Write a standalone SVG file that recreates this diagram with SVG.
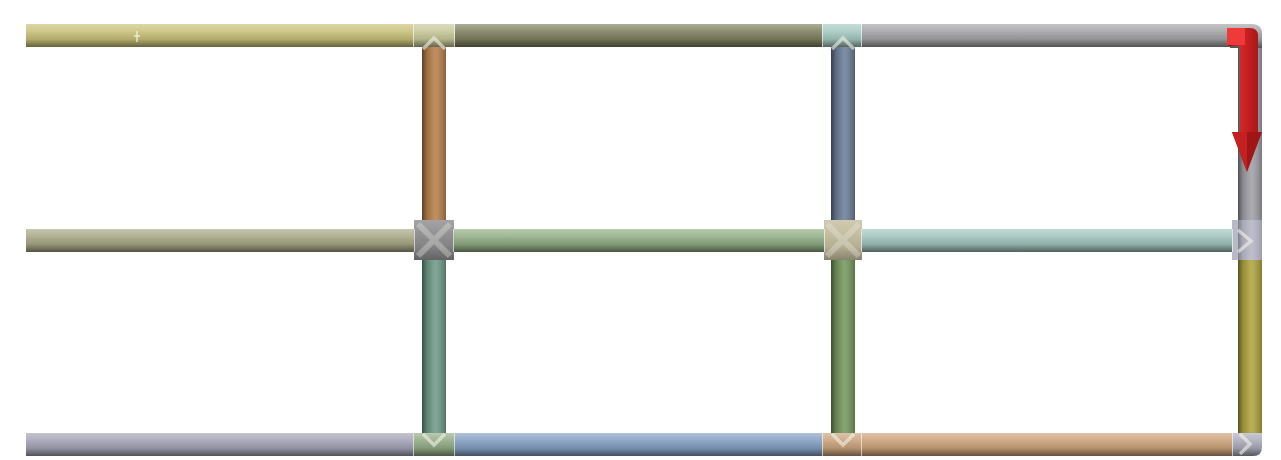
<svg xmlns="http://www.w3.org/2000/svg" width="1281" height="460" viewBox="0 0 1281 460">
<defs>
<linearGradient id="hs" x1="0" y1="0" x2="0" y2="1">
<stop offset="0" stop-color="#fff" stop-opacity="0.35"/>
<stop offset="0.3" stop-color="#fff" stop-opacity="0.12"/>
<stop offset="0.65" stop-color="#000" stop-opacity="0.1"/>
<stop offset="1" stop-color="#000" stop-opacity="0.5"/>
</linearGradient>
<linearGradient id="vs" x1="0" y1="0" x2="1" y2="0">
<stop offset="0" stop-color="#000" stop-opacity="0.5"/>
<stop offset="0.2" stop-color="#000" stop-opacity="0.15"/>
<stop offset="0.55" stop-color="#fff" stop-opacity="0.12"/>
<stop offset="1" stop-color="#000" stop-opacity="0.25"/>
</linearGradient>
<linearGradient id="red" x1="0" y1="0" x2="1" y2="0">
<stop offset="0" stop-color="#8e1010"/>
<stop offset="0.4" stop-color="#d82626"/>
<stop offset="1" stop-color="#a81818"/>
</linearGradient>
<style>
.sh{fill:url(#hs)}
.sv{fill:url(#vs)}
.edge{stroke:#fff;stroke-opacity:0.6;stroke-width:1;fill:none}
.chev{fill:none;stroke:#f4f4e8;stroke-opacity:0.6;stroke-width:3.5;stroke-linejoin:miter}
.xx{fill:none;stroke:#e8e8e0;stroke-opacity:0.35;stroke-width:6}
</style>
</defs>
<rect width="1281" height="460" fill="#fff"/>
<g id="connectors">
<rect x="26" y="24" width="387" height="23" fill="#c8c17a"/><rect x="26" y="24" width="387" height="23" class="sh"/>
<rect x="455" y="24" width="367" height="23" fill="#808060"/><rect x="455" y="24" width="367" height="23" class="sh"/>
<rect x="862" y="24" width="370" height="23" fill="#a4a4a6"/><rect x="862" y="24" width="370" height="23" class="sh"/>
<rect x="26" y="229" width="389" height="23" fill="#a8a888"/><rect x="26" y="229" width="389" height="23" class="sh"/>
<rect x="452" y="229" width="372" height="23" fill="#92ae86"/><rect x="452" y="229" width="372" height="23" class="sh"/>
<rect x="860" y="229" width="372" height="23" fill="#a2c4bc"/><rect x="860" y="229" width="372" height="23" class="sh"/>
<rect x="26" y="433" width="387" height="23" fill="#a4a4b6"/><rect x="26" y="433" width="387" height="23" class="sh"/>
<rect x="455" y="433" width="367" height="23" fill="#84a0c2"/><rect x="455" y="433" width="367" height="23" class="sh"/>
<rect x="862" y="433" width="370" height="23" fill="#cca27a"/><rect x="862" y="433" width="370" height="23" class="sh"/>
<rect x="422" y="47" width="24" height="175" fill="#b8804c"/><rect x="422" y="47" width="24" height="175" class="sv"/>
<rect x="422" y="260" width="24" height="173" fill="#6e9a88"/><rect x="422" y="260" width="24" height="173" class="sv"/>
<rect x="831" y="47" width="24" height="175" fill="#6c7e98"/><rect x="831" y="47" width="24" height="175" class="sv"/>
<rect x="831" y="260" width="24" height="173" fill="#76985e"/><rect x="831" y="260" width="24" height="173" class="sv"/>
<rect x="1238" y="40" width="24" height="180" fill="#a0a0a8"/><rect x="1238" y="40" width="24" height="180" class="sv"/>
<rect x="1238" y="260" width="24" height="173" fill="#aea43e"/><rect x="1238" y="260" width="24" height="173" class="sv"/>
<path d="M1230,24 H1252 Q1262,24 1262,34 V48 H1230 Z" fill="#a4a4a6"/>
<path d="M1230,24 H1252 Q1262,24 1262,34 V48 H1230 Z" class="sh"/>
<path d="M137,31 V42 M134,36 H140" stroke="#fff" stroke-opacity="0.7" stroke-width="1.5"/>
</g>
<g id="j1-top">
<rect x="413" y="24" width="42" height="23" fill="#c8c89a"/><rect x="413" y="24" width="42" height="23" class="sh"/>
<path d="M413.5,24 V47 M454.5,24 V47" class="edge"/>
<polyline points="423,49 434,38 445,49" class="chev"/>
</g>
<g id="j2-top">
<rect x="822" y="24" width="40" height="23" fill="#a6cac2"/><rect x="822" y="24" width="40" height="23" class="sh"/>
<path d="M822.5,24 V47 M861.5,24 V47" class="edge"/>
<polyline points="832,49 843,38 854,49" class="chev"/>
</g>
<g id="j1-mid">
<rect x="414" y="220" width="40" height="40" fill="#8c8c8e"/><rect x="414" y="220" width="40" height="40" class="sh" opacity="0.6"/>
<path d="M418,224 L450,256 M450,224 L418,256" class="xx"/>
<path d="M414.5,229 V252 M453.5,229 V252" class="edge"/>
</g>
<g id="j2-mid">
<rect x="824" y="220" width="38" height="40" fill="#c2bc9c"/><rect x="824" y="220" width="38" height="40" class="sh" opacity="0.6"/>
<path d="M827,224 L859,256 M859,224 L827,256" class="xx"/>
<path d="M824.5,229 V252 M861.5,229 V252" class="edge"/>
</g>
<g id="j3-mid">
<rect x="1232" y="220" width="30" height="40" fill="#b8b8c8"/><rect x="1238" y="220" width="24" height="40" class="sv" opacity="0.6"/>
<polyline points="1238,230 1251,241 1238,252" class="chev"/>
<path d="M1232.5,229 V252" class="edge"/>
</g>
<g id="j1-bot">
<rect x="413" y="433" width="42" height="23" fill="#94ac86"/><rect x="413" y="433" width="42" height="23" class="sh"/>
<path d="M413.5,433 V456 M454.5,433 V456" class="edge"/>
<polyline points="423,434 434,445 445,434" class="chev"/>
</g>
<g id="j2-bot">
<rect x="822" y="433" width="40" height="23" fill="#caa47e"/><rect x="822" y="433" width="40" height="23" class="sh"/>
<path d="M822.5,433 V456 M861.5,433 V456" class="edge"/>
<polyline points="832,434 843,445 854,434" class="chev"/>
</g>
<g id="j3-bot">
<path d="M1232,433 H1262 V447 Q1262,456 1253,456 H1232 Z" fill="#acacbc"/>
<path d="M1232,433 H1262 V447 Q1262,456 1253,456 H1232 Z" class="sh"/>
<path d="M1232.5,433 V456" class="edge"/>
<polyline points="1240,434 1250,444 1240,454" class="chev" stroke-width="3"/>
</g>
<g id="red-arrow">
<path d="M1228,28 H1250 Q1258,28 1258,36 V140 H1240 V46 H1228 Z" fill="url(#red)"/>
<polygon points="1232,132 1262,132 1247,172" fill="#a01616"/>
<polygon points="1232,132 1247,132 1247,172" fill="#c42020"/>
<rect x="1227" y="28" width="18" height="17" fill="#f03a3a"/>
</g>
</svg>
